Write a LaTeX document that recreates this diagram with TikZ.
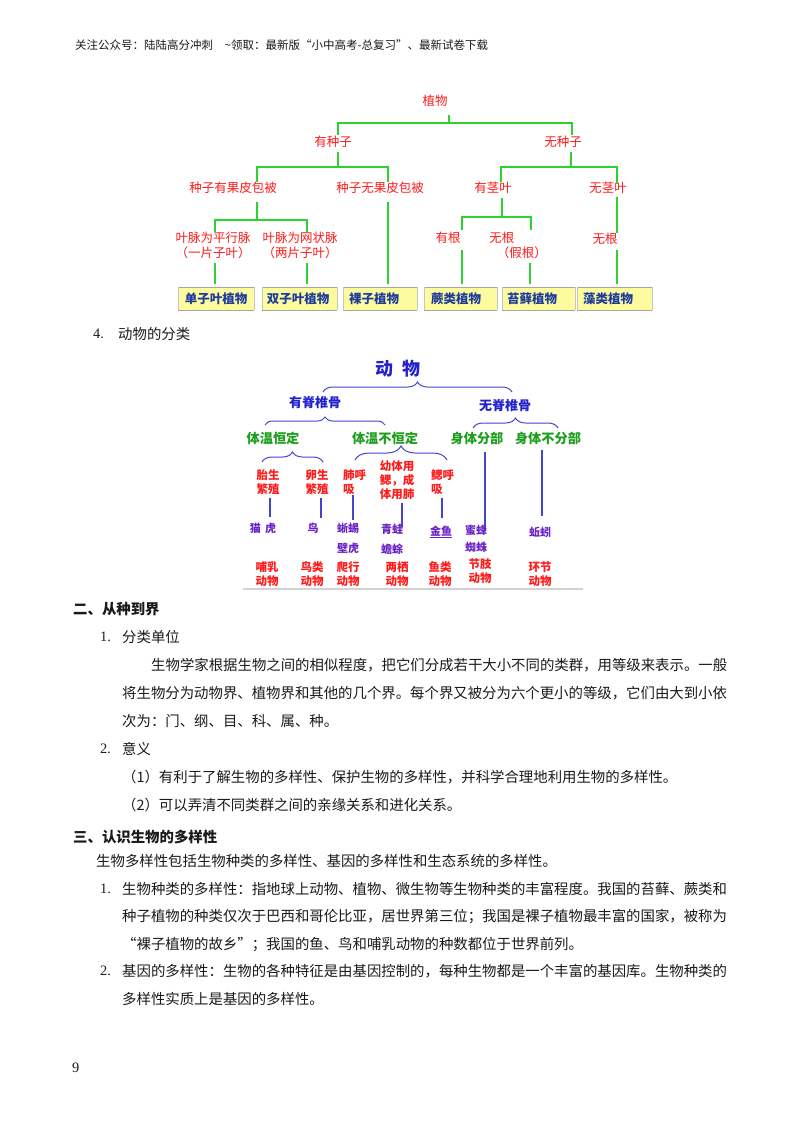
\documentclass[tikz,border=0pt]{standalone}
\usepackage{fontspec}
\setmainfont{Noto Sans CJK SC}
\newfontfamily\serifnum{Liberation Serif}
\usetikzlibrary{decorations.pathreplacing}
\definecolor{tgreen}{HTML}{2ED12E}
\definecolor{pred}{HTML}{FF1A1A}
\definecolor{pblue}{HTML}{1F3C9C}
\definecolor{pyel}{HTML}{FCFC9E}
\definecolor{aBlue}{HTML}{2222CC}
\definecolor{aLine}{HTML}{4545D2}
\definecolor{aGreen}{HTML}{1E9E1E}
\definecolor{aPurp}{HTML}{6A22C8}
\definecolor{txt}{HTML}{1A1A1A}
\tikzset{
  body/.style={anchor=west, inner sep=0pt, text=txt, font=\fontsize{14.4}{17}\selectfont},
  num/.style={anchor=west, inner sep=0pt, text=txt, font=\serifnum\fontsize{14.4}{17}\selectfont},
  head/.style={anchor=west, inner sep=0pt, text=txt, font=\bfseries\fontsize{14.4}{17}\selectfont},
  ptxt/.style={inner sep=0pt, text=pred, align=center, font=\fontsize{12.5}{15}\selectfont},
  pbox/.style={fill=pyel, draw=none},
  pboxtxt/.style={inner sep=0pt, text=pblue, font=\bfseries\fontsize{12.5}{15}\selectfont},
  gline/.style={draw=tgreen, line width=1.6pt},
  bline/.style={draw=aLine, line width=1.3pt},
  brc/.style={draw=aLine, line width=1pt, decorate},
  atitle/.style={inner sep=0pt, text=aBlue, font=\bfseries\fontsize{18}{20}\selectfont},
  alev1/.style={inner sep=0pt, text=aBlue, font=\bfseries\fontsize{13}{15}\selectfont},
  alev2/.style={inner sep=0pt, text=aGreen, font=\bfseries\fontsize{13.2}{15}\selectfont},
  ared/.style={inner sep=0pt, text=pred, align=center, font=\bfseries\fontsize{11.5}{14}\selectfont},
  aredl/.style={inner sep=0pt, text=pred, align=left, anchor=west, font=\bfseries\fontsize{11.5}{14}\selectfont},
  apur/.style={inner sep=0pt, text=aPurp, font=\bfseries\fontsize{11}{13}\selectfont},
}
\begin{document}
\begin{tikzpicture}[x=1pt,y=-1pt]
\useasboundingbox (0,0) rectangle (800,1132);
\fill[white] (0,0) rectangle (800,1132);

% header
\node[anchor=west, inner sep=0pt, text=txt, font=\fontsize{11.5}{13}\selectfont] (hdr) at (75,45) {关注公众号：陆陆高分冲刺\quad \textasciitilde 领取：最新版“小中高考-总复习”、最新试卷下载};

% ---------------- plant tree ----------------
\node[ptxt] (zw) at (435,101) {植物};
\node[ptxt] (yzz) at (333,142) {有种子};
\node[ptxt] (wzz) at (563,142) {无种子};
\node[ptxt] (yg) at (233,188) {种子有果皮包被};
\node[ptxt] (wg) at (380,188) {种子无果皮包被};
\node[ptxt] (yjy) at (493,188) {有茎叶};
\node[ptxt] (wjy) at (608,188) {无茎叶};
\node[ptxt] (pxm) at (213,245.5) {叶脉为平行脉\\（一片子叶）};
\node[ptxt] (wzm) at (300,245.5) {叶脉为网状脉\\（两片子叶）};
\node[ptxt] (ygen) at (448,238) {有根};
\node[ptxt, align=left] (wgen) at (518,245) {无根\\\hspace*{0.6em}（假根）};
\node[ptxt] (wgen2) at (605,239) {无根};

% green connectors
\coordinate (j1) at (449,123);
\draw[gline] (449,115) -- (j1);
\draw[gline] (338,135) -- (338,123) -- (572,123) -- (572,135);
\coordinate (j2) at (338,167);
\draw[gline] (338,152) -- (j2);
\draw[gline] (257,182) -- (257,167) -- (388,167) -- (388,182);
\coordinate (j3) at (571,167);
\draw[gline] (571,152) -- (j3);
\draw[gline] (501,182) -- (501,167) -- (617,167) -- (617,183);
\coordinate (j4) at (257,220);
\draw[gline] (257,202) -- (j4);
\draw[gline] (215,232) -- (215,220) -- (307,220) -- (307,232);
\draw[gline] (215,263) -- (215,284);
\draw[gline] (307,263) -- (307,284);
\draw[gline] (388,202) -- (388,284);
\coordinate (j5) at (502,217);
\draw[gline] (502,198) -- (j5);
\draw[gline] (462,230) -- (462,217) -- (531,217) -- (531,230);
\draw[gline] (462,250) -- (462,284);
\draw[gline] (530,263) -- (530,284);
\draw[gline] (617,197) -- (617,233);
\draw[gline] (617,250) -- (617,284);

% boxes
\foreach \a/\b in {178/254, 262/337, 343/417, 424/497, 502/575, 577/652}{
  \fill[pyel] (\a,287) rectangle (\b,310);
  \draw[gray!70, line width=0.9pt] (\a,287) -- (\b,287);
  \draw[gray!70, line width=0.9pt] (\a,310) -- (\b,310);
  \draw[gray!45, line width=0.6pt] (\a,287) -- (\a,310);
  \draw[gray!45, line width=0.6pt] (\b,287) -- (\b,310);
}
\node[pboxtxt] (b1) at (216,299) {单子叶植物};
\node[pboxtxt] (b2) at (298,299) {双子叶植物};
\node[pboxtxt] (b3) at (374,299) {裸子植物};
\node[pboxtxt] (b4) at (456,299) {蕨类植物};
\node[pboxtxt] (b5) at (532,299) {苔藓植物};
\node[pboxtxt] (b6) at (608,299) {藻类植物};

% section 4 title
\node[num] (n4) at (93,334) {4.};
\node[body] (s4) at (118,334) {动物的分类};

% ---------------- animal tree ----------------
\node[atitle] (dw) at (398,369) {动\hspace{0.5em}物};
\draw[brc, decoration={brace, amplitude=10pt}] (323,392) -- (512,392);
\node[alev1] (yjz) at (315,403) {有脊椎骨};
\node[alev1] (wjz) at (505,406) {无脊椎骨};
\draw[brc, decoration={brace, amplitude=8pt}] (265,425) -- (385,425);
\draw[brc, decoration={brace, amplitude=10pt}] (473,428) -- (558,428);
\node[alev2] (twhd) at (273,438) {体温恒定};
\node[alev2] (twbhd) at (385,438) {体温不恒定};
\node[alev2] (stfb) at (477,438) {身体分部};
\node[alev2] (stbfb) at (548,438) {身体不分部};
\draw[brc, decoration={brace, amplitude=10pt}] (262,462) -- (323,462);
\draw[brc, decoration={brace, amplitude=14pt}] (355,460) -- (447,460);

\node[ared] (tsfz) at (268,482) {胎生\\繁殖};
\node[ared] (lsfz) at (317,482) {卵生\\繁殖};
\node[aredl] (fhx) at (343,482) {肺呼\\吸};
\node[ared] (ytys) at (397,480) {幼体用\\鳃，成\\体用肺};
\node[aredl] (shx) at (431,482) {鳃呼\\吸};

\draw[bline] (270,498) -- (270,517);
\draw[bline] (321,498) -- (321,518);
\draw[bline] (353,495) -- (353,520);
\draw[bline] (402,503) -- (402,527);
\draw[bline] (442,498) -- (442,518);
\draw[bline] (485,452) -- (485,530);
\draw[bline] (542,450) -- (542,516);

\node[apur] (mh) at (263,528) {猫\hspace{0.4em}虎};
\node[apur] (niao) at (313,528) {鸟};
\node[apur] (xy) at (348,528) {蜥蜴};
\node[apur] (bh) at (348,548) {壁虎};
\node[apur] (qw) at (392,529) {青蛙};
\node[apur] (cc) at (392,549) {蟾蜍};
\node[apur] (jy) at (441,531) {金鱼};
\draw[aPurp, line width=0.8pt] (jy.south west) ++(0,1.5) -- ++(22,0);
\node[apur] (mf) at (476,530) {蜜蜂};
\node[apur] (zz) at (476,547) {蜘蛛};
\node[apur] (qy) at (540,532) {蚯蚓};

\node[ared] (brdw) at (267,574) {哺乳\\动物};
\node[ared] (nldw) at (312,574) {鸟类\\动物};
\node[ared] (pxdw) at (348,574) {爬行\\动物};
\node[ared] (lqdw) at (397,574) {两栖\\动物};
\node[ared] (yldw) at (440,574) {鱼类\\动物};
\node[ared] (zzdw) at (480,571) {节肢\\动物};
\node[ared] (hjdw) at (540,574) {环节\\动物};
\draw[gray!35, line width=2.5pt] (243,589) -- (583,589);

% ---------------- text ----------------
\node[head] (h2) at (73,609) {二、从种到界};
\node[num] (n1) at (100,637) {1.};
\node[body] (t1) at (122,637) {分类单位};
\node[body] (p1) at (151,665) {生物学家根据生物之间的相似程度，把它们分成若干大小不同的类群，用等级来表示。一般};
\node[body] (p2) at (122,693) {将生物分为动物界、植物界和其他的几个界。每个界又被分为六个更小的等级，它们由大到小依};
\node[body] (p3) at (122,721) {次为：门、纲、目、科、属、种。};
\node[num] (n2) at (100,749) {2.};
\node[body] (t2) at (122,749) {意义};
\node[body] (q1) at (122,777) {（1）有利于了解生物的多样性、保护生物的多样性，并科学合理地利用生物的多样性。};
\node[body] (q2) at (122,805) {（2）可以弄清不同类群之间的亲缘关系和进化关系。};

\node[head] (h3) at (73,837) {三、认识生物的多样性};
\node[body] (r0) at (96,861) {生物多样性包括生物种类的多样性、基因的多样性和生态系统的多样性。};
\node[num] (m1) at (100,889) {1.};
\node[body] (r1) at (122,889) {生物种类的多样性：指地球上动物、植物、微生物等生物种类的丰富程度。我国的苔藓、蕨类和};
\node[body] (r2) at (122,917) {种子植物的种类仅次于巴西和哥伦比亚，居世界第三位；我国是裸子植物最丰富的国家，被称为};
\node[body] (r3) at (122,945) {“裸子植物的故乡”；我国的鱼、鸟和哺乳动物的种数都位于世界前列。};
\node[num] (m2) at (100,971) {2.};
\node[body] (r4) at (122,971) {基因的多样性：生物的各种特征是由基因控制的，每种生物都是一个丰富的基因库。生物种类的};
\node[body] (r5) at (122,999) {多样性实质上是基因的多样性。};

\node[num] (pg) at (72,1068) {9};
\end{tikzpicture}
\end{document}
